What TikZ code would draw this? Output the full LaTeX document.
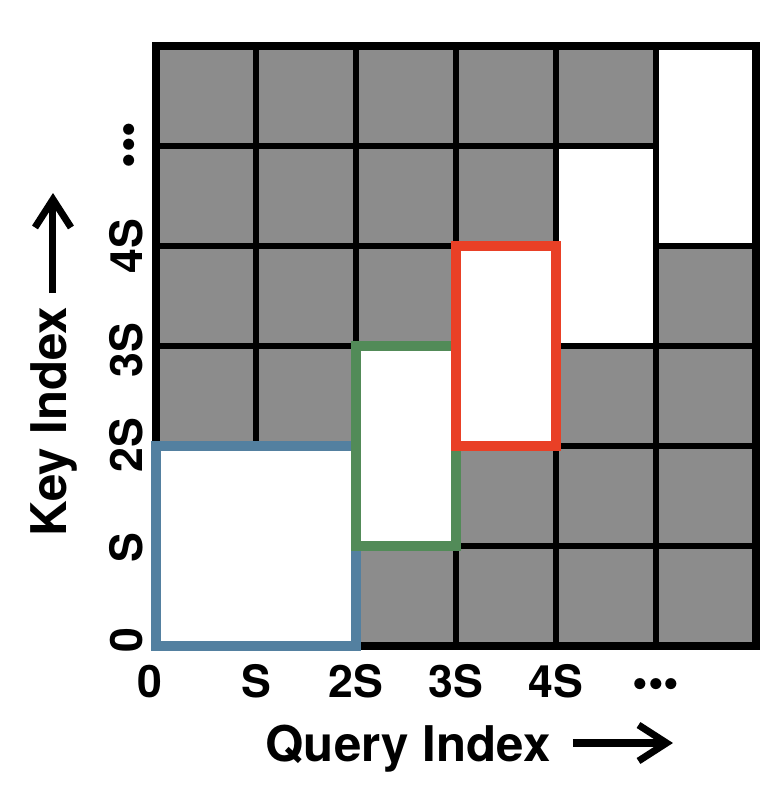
\documentclass[tikz,border=0pt]{standalone}
\usepackage{fontspec}
\setmainfont{TeX Gyre Heros}
\usetikzlibrary{arrows.meta}

\definecolor{cellgray}{HTML}{8C8C8C}
\definecolor{winblue}{HTML}{5380A0}
\definecolor{wingreen}{HTML}{528B58}
\definecolor{winred}{HTML}{E94026}

\tikzset{
  gridline/.style={line width=0.06cm},
  frameline/.style={line width=0.08cm},
  winbox/.style={line width=0.1cm, fill=white},
  ticklabel/.style={font=\fontsize{12.7}{14}\selectfont\bfseries, inner sep=0pt, anchor=base},
  axislabel/.style={font=\fontsize{14}{16}\selectfont\bfseries, inner sep=0pt, anchor=base west},
  axisarrow/.style={line width=0.07cm, -{Straight Barb[length=0.28cm, width=0.36cm]}}
}

\begin{document}
\begin{tikzpicture}
\useasboundingbox (-1.56,-1.58) rectangle (6.28,6.46);

\fill[cellgray] (0,0) rectangle (6,6);
\draw[gridline] (0,0) grid (6,6);
\fill[white] (4.03,3.03) rectangle (4.97,4.97);
\fill[white] (5.03,4.03) rectangle (5.97,5.97);
\draw[frameline] (0,0) rectangle (6,6);

\draw[winbox, draw=winblue] (0,0) rectangle (2,2);
\draw[winbox, draw=wingreen] (2,1) rectangle (3,3);
\draw[winbox, draw=winred] (3,2) rectangle (4,4);

\foreach \lab/\qpos/\kpos [count=\i] in {0/-0.06/0.06, S/1/0.985, 2S/2/2.01, 3S/3/2.96, 4S/4/4, •••/5/5.01} {
  \node[ticklabel] (qt\i) at (\qpos,-0.51) {\lab};
  \node[ticklabel, rotate=90] (kt\i) at (-0.13,\kpos) {\lab};
}

\node[axislabel] (qlab) at (1.09,-1.16) {Query Index};
\node[axislabel, rotate=90] (klab) at (-0.89,1.09) {Key Index};
\coordinate (qtail) at (4.17,-0.97);
\coordinate (qhead) at (5.17,-0.97);
\coordinate (ktail) at (-1.03,3.53);
\coordinate (khead) at (-1.03,4.53);
\draw[axisarrow] (qtail) -- (qhead);
\draw[axisarrow] (ktail) -- (khead);
\end{tikzpicture}
\end{document}
